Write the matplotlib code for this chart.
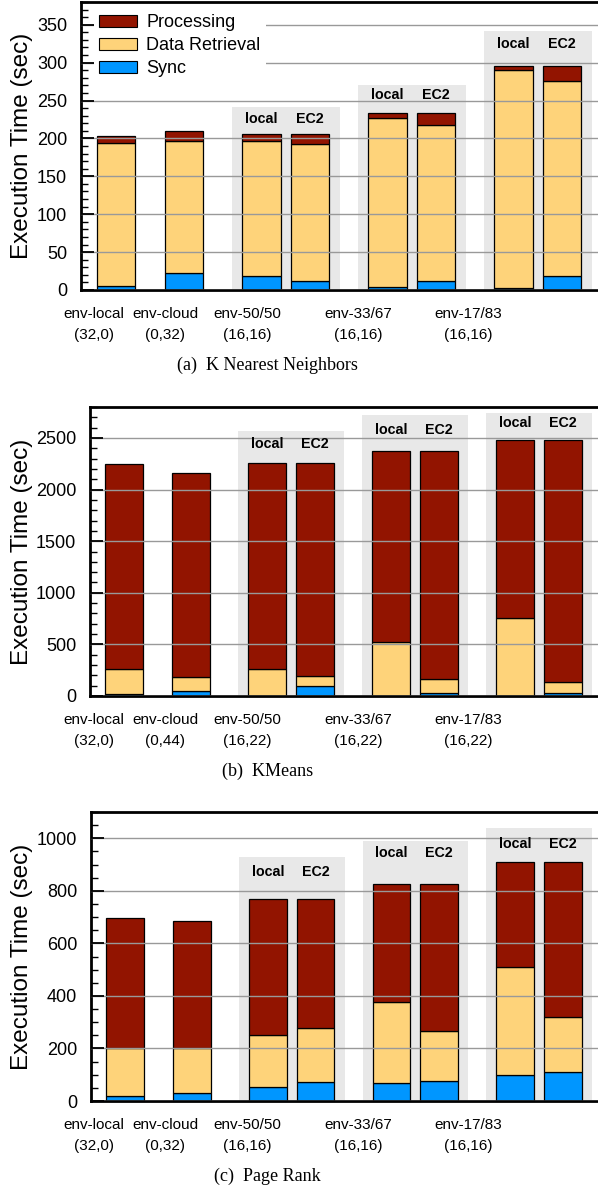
import matplotlib
matplotlib.use('Agg')
import matplotlib.pyplot as plt
from matplotlib.patches import Patch
from matplotlib.ticker import MultipleLocator

# ---------------- data ----------------
configs = ['env-local', 'env-cloud', 'env-50/50', 'env-33/67', 'env-17/83']
cores_knn = ['(32,0)', '(0,32)', '(16,16)', '(16,16)', '(16,16)']
cores_km = ['(32,0)', '(0,44)', '(16,22)', '(16,22)', '(16,22)']
cores_pr = ['(32,0)', '(0,32)', '(16,16)', '(16,16)', '(16,16)']
sides = ['local', 'EC2']
series = ['Processing', 'Data Retrieval', 'Sync']

# bars: env-local, env-cloud, 50/50 local, 50/50 EC2, 33/67 local, 33/67 EC2, 17/83 local, 17/83 EC2
knn_sync = [5, 23, 18, 12, 3.5, 12, 2, 18]
knn_retr = [189, 173, 179, 181, 223.5, 206, 288, 258]
knn_proc = [8.6, 14, 8.7, 12.7, 7, 16, 6, 20]

km_sync = [16, 45, 0, 94, 0, 32, 0, 26]
km_retr = [242, 142, 265, 96, 519, 136, 752, 109]
km_proc = [1987, 1978, 1993, 2068, 1858, 2209, 1725, 2342]

pr_sync = [20, 29, 52, 71, 70, 76, 100, 109]
pr_retr = [180, 171, 198, 207, 308, 192, 411, 211]
pr_proc = [495, 487, 517, 489, 447, 557, 398, 589]

captions = ['(a)  K Nearest Neighbors', '(b)  KMeans', '(c)  Page Rank']

# ---------------- style ----------------
C_PROC = '#921400'
C_RETR = '#FED37A'
C_SYNC = '#0096FF'
C_BOX = '#E8E8E8'
SANS = 'Liberation Sans'
SERIF = 'Liberation Serif'

W, H = 598, 1198
fig = plt.figure(figsize=(W / 100, H / 100), dpi=100)

# bar positions (layout)
xpos = [0.0, 1.4]
for g in range(3):
    xpos += [3.0 + 2.6 * g, 4.0 + 2.6 * g]
bw = 0.79

# panel layouts: left px, top px, bottom px, ylim top, major, minor
panels = [
    dict(left=81, top=2, bottom=290, ymax=380, major=50, minor=10,
         sync=knn_sync, retr=knn_retr, proc=knn_proc, cores=cores_knn,
         box_pad=[27, 28, 35], lab_pad=[15, 18, 22]),
    dict(left=90, top=407, bottom=696, ymax=2800, major=500, minor=100,
         sync=km_sync, retr=km_retr, proc=km_proc, cores=cores_km,
         box_pad=[32, 36, 27], lab_pad=[19, 21, 17]),
    dict(left=91, top=812, bottom=1101, ymax=1100, major=200, minor=50,
         sync=pr_sync, retr=pr_retr, proc=pr_proc, cores=cores_pr,
         box_pad=[42, 43, 34], lab_pad=[27, 31, 18]),
]
label_x_px = [93.7, 165, 247, 358, 468]
caption_x_px = 267.5

for pi, p in enumerate(panels):
    ax = fig.add_axes([p['left'] / W, (H - p['bottom']) / H,
                       (W - p['left']) / W, (p['bottom'] - p['top']) / H])
    ax.set_xlim(-0.72, 9.94)
    ax.set_ylim(0, p['ymax'])
    ppu = (p['bottom'] - p['top']) / p['ymax']

    sync, retr, proc = p['sync'], p['retr'], p['proc']
    tot = [s + r + q for s, r, q in zip(sync, retr, proc)]
    base2 = [s + r for s, r in zip(sync, retr)]

    # gray group boxes with local / EC2 labels
    for g in range(3):
        i = 2 + 2 * g
        mid = (xpos[i] + xpos[i + 1]) / 2
        top = max(tot[i], tot[i + 1])
        ax.bar(mid, top + p['box_pad'][g] / ppu, width=2.22, color=C_BOX,
               zorder=0.5, linewidth=0)
        ly = top + p['lab_pad'][g] / ppu
        for k, s in enumerate(sides):
            ax.text(xpos[i + k], ly, s, ha='center', va='center',
                    fontsize=10.3, fontweight='bold', family=SANS, zorder=4)

    ax.bar(xpos, sync, width=bw, color=C_SYNC, edgecolor='black',
           linewidth=0.9, zorder=2)
    ax.bar(xpos, retr, bottom=sync, width=bw, color=C_RETR,
           edgecolor='black', linewidth=0.9, zorder=2)
    ax.bar(xpos, proc, bottom=base2, width=bw, color=C_PROC,
           edgecolor='black', linewidth=0.9, zorder=2)

    ax.yaxis.set_major_locator(MultipleLocator(p['major']))
    ax.yaxis.set_minor_locator(MultipleLocator(p['minor']))
    ax.yaxis.grid(True, which='major', color='#999999', linewidth=1.0,
                  zorder=1)
    ax.set_axisbelow(False)
    for gl in ax.get_ygridlines():
        gl.set_zorder(1)
    ax.set_xticks([])
    ax.tick_params(axis='y', which='major', direction='in', length=9,
                   width=1.3, pad=10, labelsize=13)
    ax.tick_params(axis='y', which='minor', direction='in', length=5,
                   width=1.0)
    for lab in ax.get_yticklabels():
        lab.set_family(SANS)
    for side in ['left', 'top', 'bottom']:
        ax.spines[side].set_linewidth(2.0)
    ax.spines['right'].set_visible(False)

    fig.text(22.5 / W, 1 - ((p['top'] + p['bottom']) / 2) / H,
             'Execution Time (sec)', rotation=90, ha='center', va='center',
             fontsize=17.5, family=SANS)

    for j in range(5):
        fig.text(label_x_px[j] / W, 1 - (p['bottom'] + 24) / H, configs[j],
                 ha='center', va='center', fontsize=11, family=SANS)
        fig.text(label_x_px[j] / W, 1 - (p['bottom'] + 45) / H, p['cores'][j],
                 ha='center', va='center', fontsize=11, family=SANS)
    fig.text(caption_x_px / W, 1 - (p['bottom'] + 75) / H, captions[pi],
             ha='center', va='center', fontsize=13, family=SERIF)

    if pi == 0:
        handles = [Patch(facecolor=c, edgecolor='black', linewidth=0.8)
                   for c in (C_PROC, C_RETR, C_SYNC)]
        leg = ax.legend(handles, series, loc='upper left',
                        bbox_to_anchor=(94 / W, 1 - 9 / H),
                        bbox_transform=fig.transFigure, frameon=True,
                        framealpha=1, edgecolor='none', facecolor='white',
                        fancybox=False, prop={'family': SANS, 'size': 13},
                        handlelength=2.1, handleheight=0.6,
                        handletextpad=0.5, labelspacing=0.33,
                        borderpad=0.3, borderaxespad=0)
        leg.set_zorder(5)

fig.savefig('out.png', dpi=100)
